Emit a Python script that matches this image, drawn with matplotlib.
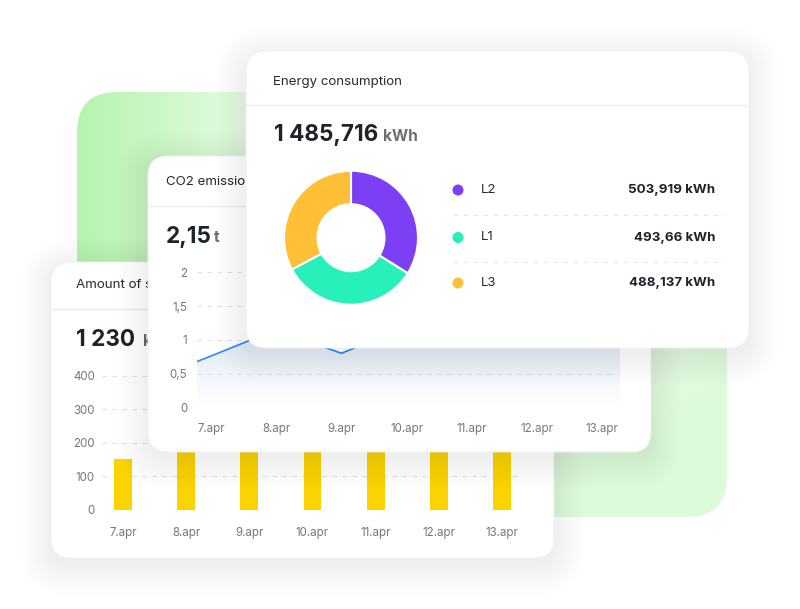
import numpy as np
import matplotlib; matplotlib.use('Agg')
from matplotlib import pyplot as plt
from matplotlib.patches import FancyBboxPatch, Circle

plt.rcParams['font.family'] = ['Inter', 'DejaVu Sans']

############## DATA ################

days = ['7.apr', '8.apr', '9.apr', '10.apr', '11.apr', '12.apr', '13.apr']

# Amount of savings (bars), only the first one is fully visible
savings = [151, 240, 265, 250, 275, 255, 245]
savings_ticks = [0, 100, 200, 300, 400]

# CO2 emissions (line), runs a little past the first and last label
co2_days = ['6.apr'] + days + ['14.apr']
co2 = [0.38, 0.76, 1.15, 0.80, 1.19, 1.30, 1.22, 1.34, 1.28]
co2_ticks = [0, 0.5, 1, 1.5, 2]
co2_tick_labels = ['0', '0,5', '1', '1,5', '2']

# Energy consumption (donut)
phases = ['L2', 'L1', 'L3']
energy = [503.919, 493.66, 488.137]
phase_colors = ['#7C3FF3', '#27F0BB', '#FFBF36']


def fmt(v, decimals=None):
    s = '{:,.3f}'.format(v) if decimals else '{:g}'.format(v)
    return s.replace(',', ' ').replace('.', ',')


############## LAYOUT ################

W, H = 800, 609
fig = plt.figure(figsize=(W / 100, H / 100), dpi=100)


def frac(x0, y0, x1, y1):
    return [x0 / W, 1 - y1 / H, (x1 - x0) / W, (y1 - y0) / H]


def layer(z):
    ax = fig.add_axes([0, 0, 1, 1], zorder=z)
    ax.set_xlim(0, W)
    ax.set_ylim(H, 0)
    ax.axis('off')
    return ax


def card(ax, x0, y0, x1, y1, r=20):
    # soft shadow
    for i in range(16):
        e = 1 + i * 2
        ax.add_patch(FancyBboxPatch((x0 - e, y0 - e + 7), x1 - x0 + 2 * e, y1 - y0 + 2 * e,
                                    boxstyle='round,pad=0,rounding_size={}'.format(r + e),
                                    fc='#1c1c30', ec='none', alpha=0.005))
    ax.add_patch(FancyBboxPatch((x0, y0), x1 - x0, y1 - y0,
                                boxstyle='round,pad=0,rounding_size={}'.format(r),
                                fc='white', ec='#efefef', lw=0.6))


def style_chart(ax):
    ax.patch.set_visible(False)
    for s in ax.spines.values():
        s.set_visible(False)
    ax.tick_params(length=0, labelsize=8.3, labelcolor='#777777')
    ax.grid(axis='y', color='#e0e0e0', linestyle=(0, (4, 5)), linewidth=0.8)
    ax.set_axisbelow(True)


TXT = '#2a2a2a'
NUM = '#1d2329'
UNIT = '#6e6e6e'
HEAD = 9.6
BIG = 16.2
UNIT_FS = 11.2
ROW = 9.6

############## LAYER 1: green shape + savings card ################

L1 = layer(1)
gx0, gy0, gx1, gy1 = 77, 92, 727, 517
xx, yy = np.meshgrid(np.linspace(gx0, gx1, 325), np.linspace(gy0, gy1, 213))
u = (xx - gx0) / (gx1 - gx0)
v = (yy - gy0) / (gy1 - gy0)
s = np.maximum(0.3 + 0.7 * np.clip(1 - (xx - gx0) / 180, 0, 1),
               0.45 * np.clip((u + v - 0.9) / 0.8, 0, 1))
base = np.array([0.71, 0.957, 0.68])
img = 1 - s[..., None] * (1 - base)
green = FancyBboxPatch((gx0, gy0), gx1 - gx0, gy1 - gy0,
                       boxstyle='round,pad=0,rounding_size=40', fc='none', ec='none')
L1.add_patch(green)
im = L1.imshow(img, extent=(gx0, gx1, gy1, gy0), origin='upper', aspect='auto')
im.set_clip_path(green)
L1.set_xlim(0, W)
L1.set_ylim(H, 0)

card(L1, 51, 262, 554, 558)
L1.plot([51, 554], [309, 309], color='#ebebeb', lw=1)
L1.text(76, 285, 'Amount of s', fontsize=HEAD, color=TXT, va='center')
L1.text(76, 346, '1 230', fontsize=BIG, fontweight='bold', color=NUM, va='baseline')
L1.text(143, 346, 'k', fontsize=UNIT_FS, fontweight='bold', color=UNIT, va='baseline')

bars = fig.add_axes(frac(102, 375.7, 523, 510), zorder=2)
style_chart(bars)
bars.bar(np.arange(len(days)), savings, width=0.28, color='#FAD300')
bars.set_xlim(-0.33, len(days) - 1 + 0.33)
bars.set_ylim(0, 400)
bars.set_yticks(savings_ticks)
bars.set_xticks(np.arange(len(days)))
bars.set_xticklabels(days)
bars.tick_params(axis='y', pad=5)
bars.tick_params(axis='x', pad=12)

############## LAYER 2: CO2 card ################

L2 = layer(3)
card(L2, 148, 156, 651, 452)
L2.plot([148, 651], [206, 206], color='#ebebeb', lw=1)
L2.text(166, 182, 'CO2 emissio', fontsize=HEAD, color=TXT, va='center')
L2.text(166, 242.5, fmt(2.15), fontsize=BIG, fontweight='bold', color=NUM, va='baseline')
L2.text(214, 242.5, 't', fontsize=UNIT_FS, fontweight='bold', color=UNIT, va='baseline')

line = fig.add_axes(frac(197, 272.3, 620, 407.3), zorder=4)
style_chart(line)
xs = np.arange(len(co2_days)) - 1
xlim = (-0.215, len(days) - 1 + 0.276)
fill = line.fill_between(xs, co2, 0, color='none')
grad = np.zeros((100, 2, 4))
grad[..., :3] = np.array([0.86, 0.90, 0.96])
grad[..., 3] = np.linspace(0, 1, 100)[:, None]
gim = line.imshow(grad, extent=(xlim[0], xlim[1], 0, 1.25), origin='lower',
                  aspect='auto', zorder=1)
gim.set_clip_path(fill.get_paths()[0], transform=line.transData)
line.plot(xs, co2, color='#2D8CFF', lw=1.2, zorder=2)
line.set_xlim(*xlim)
line.set_ylim(0, 2)
line.set_yticks(co2_ticks)
line.set_yticklabels(co2_tick_labels)
line.set_xticks(np.arange(len(days)))
line.set_xticklabels(days)
line.tick_params(axis='y', pad=7)
line.tick_params(axis='x', pad=11)

############## LAYER 3: energy card ################

L3 = layer(5)
card(L3, 246, 51, 749, 348)
L3.plot([246, 749], [105, 105], color='#ebebeb', lw=1)
L3.text(273, 82, 'Energy consumption', fontsize=HEAD, color=TXT, va='center')
L3.text(274, 141, fmt(sum(energy), 3), fontsize=BIG, fontweight='bold',
        color=NUM, va='baseline')
L3.text(383, 141, 'kWh', fontsize=UNIT_FS, fontweight='bold', color=UNIT, va='baseline')

row_y = [190, 237.5, 283]
for i, (name, val, col) in enumerate(zip(phases, energy, phase_colors)):
    y = row_y[i]
    L3.add_patch(Circle((458, y), 5.5, fc=col, ec='none'))
    L3.text(481, y, name, fontsize=ROW, color=TXT, va='center')
    L3.text(715, y, fmt(val) + ' kWh', fontsize=ROW, fontweight='bold',
            color=NUM, va='center', ha='right')
    if i < len(phases) - 1:
        ym = (row_y[i] + row_y[i + 1]) / 2 + 1.5
        L3.plot([453, 724], [ym, ym], color='#e4e4e4', lw=0.8, linestyle=(0, (4, 5)))

donut = fig.add_axes(frac(282, 168.7, 420, 306.7), zorder=6)
donut.pie(energy, colors=phase_colors, startangle=90, counterclock=False, radius=1,
          wedgeprops=dict(width=0.5, edgecolor='white', linewidth=1.5))
donut.set_xlim(-1.03, 1.03)
donut.set_ylim(-1.03, 1.03)
donut.axis('off')

plt.savefig('out.png', dpi=100)
plt.close()
